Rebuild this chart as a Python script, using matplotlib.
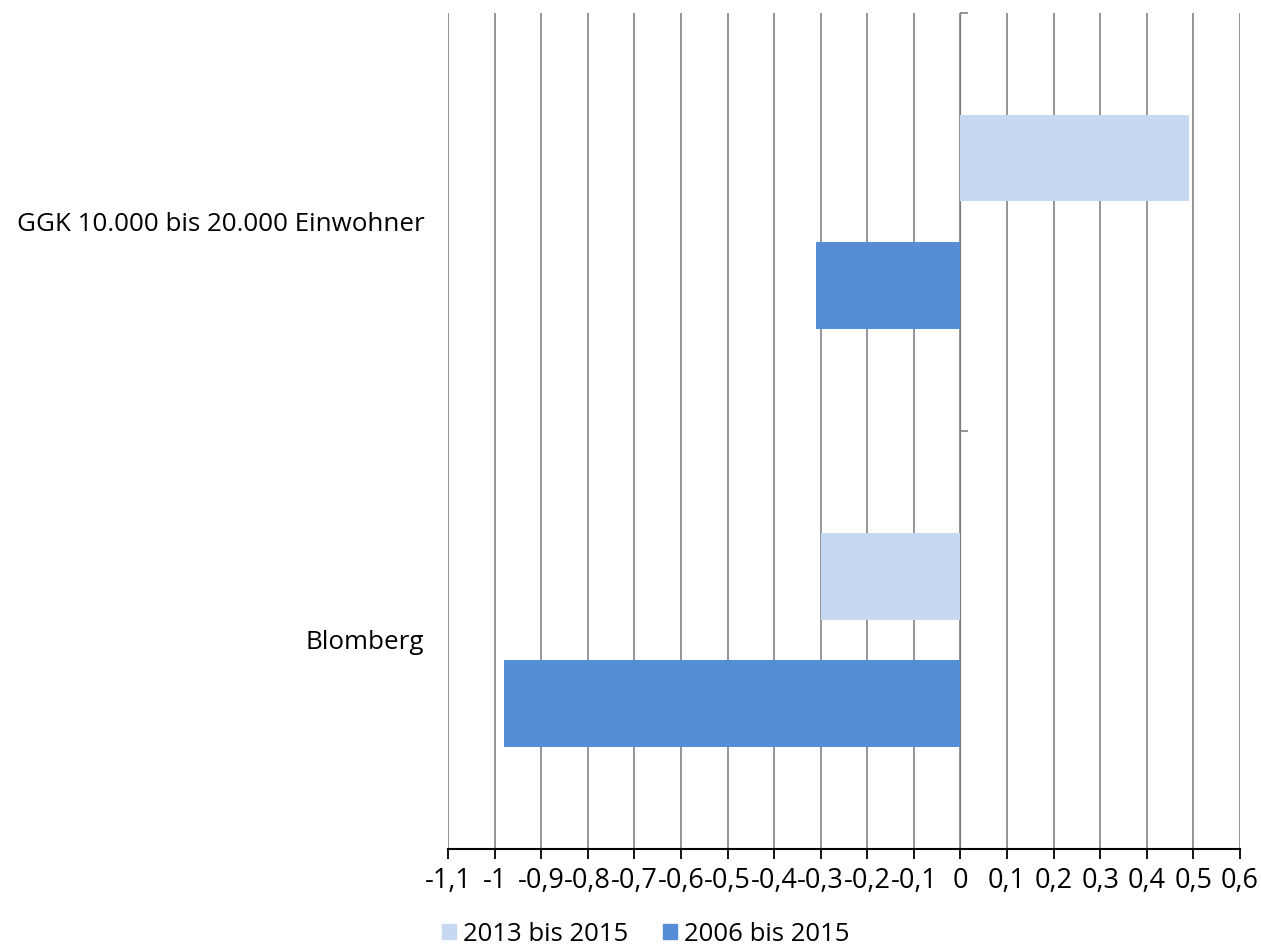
import matplotlib
matplotlib.use("Agg")
import matplotlib.pyplot as plt
from matplotlib.ticker import FuncFormatter, MultipleLocator
from matplotlib.patches import Patch

# data
categories = ["Blomberg", "GGK 10.000 bis 20.000 Einwohner"]
series_names = ["2013 bis 2015", "2006 bis 2015"]
vals_2013 = [-0.30, 0.49]
vals_2006 = [-0.98, -0.31]
colors = ["#c6d9f0", "#558ed5"]

font = ["Open Sans", "DejaVu Sans"]

XMIN, XMAX = -1.1, 0.6

fig = plt.figure(figsize=(12.61, 9.47), dpi=100)
ax = fig.add_axes([0.3553, 0.1035, 0.628, 0.8828])

ypos = list(range(len(categories)))
h = 0.206
off = 0.152
ax.barh([y + off for y in ypos], vals_2013, height=h, color=colors[0], zorder=3)
ax.barh([y - off for y in ypos], vals_2006, height=h, color=colors[1], zorder=3)

ax.set_xlim(XMIN, XMAX)
ax.set_ylim(-0.5, len(categories) - 0.5)
ax.xaxis.set_major_locator(MultipleLocator(0.1))
ax.xaxis.set_major_formatter(FuncFormatter(lambda v, p: ("%g" % round(v, 1)).replace(".", ",")))
ax.grid(axis="x", color="#8c8c8c", linewidth=1.3, zorder=0)
ax.tick_params(axis="x", direction="out", length=7, width=1.3, color="black", pad=6)
for lab in ax.get_xticklabels():
    lab.set_family(font)
    lab.set_fontsize(19.5)

for s in ["top", "right", "left"]:
    ax.spines[s].set_visible(False)
ax.spines["bottom"].set_linewidth(1.5)
ax.spines["bottom"].set_zorder(5)

# category labels at the left edge
ax.set_yticks(ypos)
ax.set_yticklabels(categories, family=font, fontsize=18.7)
ax.tick_params(axis="y", length=0, pad=17)

# category axis crossing at x=0
sec = ax.secondary_yaxis((0 - XMIN) / (XMAX - XMIN))
sec.set_yticks([y + 0.5 for y in ypos])
sec.set_yticklabels([])
sec.spines["left"].set_color("#8c8c8c")
sec.spines["left"].set_linewidth(1.3)
sec.tick_params(axis="y", direction="out", length=6, width=1.3, color="#8c8c8c")

handles = [Patch(color=c, label=n) for c, n in zip(colors, series_names)]
fig.legend(handles=handles, loc="lower center", bbox_to_anchor=(0.512, -0.024), ncol=2,
           frameon=False, prop={"family": font, "size": 18.5}, handlelength=0.55,
           handleheight=0.55, handletextpad=0.27, columnspacing=1.35)

fig.savefig("out.png", dpi=100)
